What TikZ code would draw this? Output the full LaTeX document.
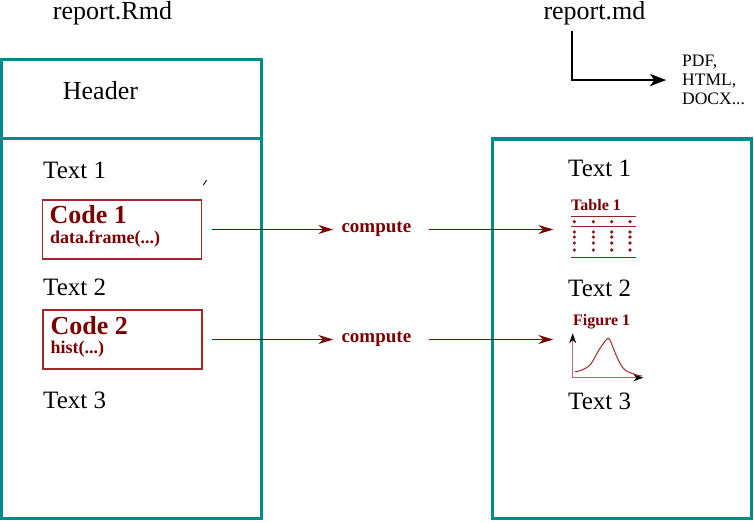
\documentclass[tikz,border=0pt]{standalone}
\usepackage{fontspec}
\setmainfont{Liberation Serif}
\usepackage{tikz}
\usetikzlibrary{arrows.meta,shapes}

\definecolor{tl}{RGB}{0,139,139}
\definecolor{dr}{RGB}{120,0,0}
\definecolor{br}{RGB}{160,40,40}

\begin{document}
\begin{tikzpicture}[x=1pt, y=-1pt,
  ttl/.style={anchor=base west, inner sep=0pt, font=\fontsize{26}{28}\selectfont},
  txt/.style={anchor=base west, inner sep=0pt, font=\fontsize{25}{27}\selectfont},
  doc/.style={draw=tl, line width=3.3pt},
  codebox/.style={draw=br, line width=1.7pt, minimum width=159pt, minimum height=58.5pt},
  big/.style={anchor=base west, inner sep=0pt, text=dr, font=\fontsize{26}{28}\selectfont\bfseries},
  small/.style={anchor=base west, inner sep=0pt, text=dr, font=\fontsize{18}{20}\selectfont\bfseries},
  comp/.style={anchor=west, text=dr, font=\fontsize{19}{21}\selectfont\bfseries},
  lbl/.style={anchor=base west, inner sep=0pt, text=dr, font=\fontsize{16}{18}\selectfont\bfseries},
  flow/.style={draw=dr, line width=1.2pt, -{Stealth[length=15pt,width=9pt,inset=5pt]}},
  axis/.style={draw=br!70, line width=1pt, -{Stealth[black,length=10pt,width=7pt]}},
  rule/.style={draw=dr!85, line width=1.3pt}]
  \useasboundingbox (0,0) rectangle (754,522);
  % the two documents
  \node[ttl] (0) at (52.7,19.5) {report.Rmd};
  \node[ttl] (1) at (543.3,19) {report.md};
  \draw[doc] (1.5,59.3) rectangle (261.3,518.7);
  \draw[doc] (1.5,138.3) -- (261.3,138.3);
  \draw[doc] (492.5,139) rectangle (751.5,518.7);
  \node[ttl] (2) at (62.7,99) {Header};
  % left side
  \node[txt] (3) at (43,178) {Text 1};
  \node[txt] (4) at (43,295) {Text 2};
  \node[txt] (5) at (43,408) {Text 3};
  \node[codebox] (9) at (122,229.5) {};
  \node[big] (10) at (49.5,223) {Code 1};
  \node[small] (11) at (50,243) {data.frame(...)};
  \node[codebox] (12) at (122.6,339.5) {};
  \node[big] (13) at (50.5,334) {Code 2};
  \node[small] (14) at (50.5,353) {hist(...)};
  \draw[line width=0.9pt] (203.3,185) -- (206.7,180);
  % right side
  \node[txt] (6) at (568,176) {Text 1};
  \node[txt] (7) at (568,296) {Text 2};
  \node[txt] (8) at (568,409) {Text 3};
  \node[comp] (15) at (338,229.5) {compute};
  \node[comp] (16) at (338,339.5) {compute};
  \coordinate (17) at (553.3,229.5);
  \coordinate (18) at (553.3,339.5);
  \draw[flow, shorten <=9.3pt, shorten >=4.7pt] (9) -- (15);
  \draw[flow, shorten <=14pt] (15) -- (17);
  \draw[flow, shorten <=9.3pt, shorten >=4.7pt] (12) -- (16);
  \draw[flow, shorten <=14pt] (16) -- (18);
  % table
  \node[lbl] (19) at (571,210) {Table 1};
  \draw[rule] (571,216.7) -- (636,216.7);
  \draw[rule] (571,226.7) -- (636,226.7);
  \draw[rule] (571,257.7) -- (636,257.7);
  \foreach \x in {574.3,593.3,611.7,630}
    \foreach \y in {221.7,232,237,243,250}
      \fill[dr!90] (\x,\y) circle (1.8pt);
  % figure
  \node[lbl] (20) at (573,325) {Figure 1};
  \draw[axis] (572.7,377.7) -- (572.7,333.3);
  \draw[axis] (572.7,377.7) -- (643.3,377.7);
  \draw[br, line width=1pt] plot[smooth] coordinates {(575,371.7) (580,370.7) (590,365) (600,348.3) (608.3,338.3) (613.3,348.3) (618.3,360) (625,370) (636.7,375) (642,376)};
  % output formats
  \node[anchor=north west, align=left, inner sep=0pt, font=\fontsize{17.5}{19}\selectfont] (21) at (682,55) {PDF,\\HTML,\\DOCX...};
  \draw[line width=2pt, -{Stealth[length=16pt,width=12pt,inset=4pt]}, shorten <=6pt, shorten >=15.8pt] ([xshift=29pt]1.south west) |- (21);
\end{tikzpicture}
\end{document}
